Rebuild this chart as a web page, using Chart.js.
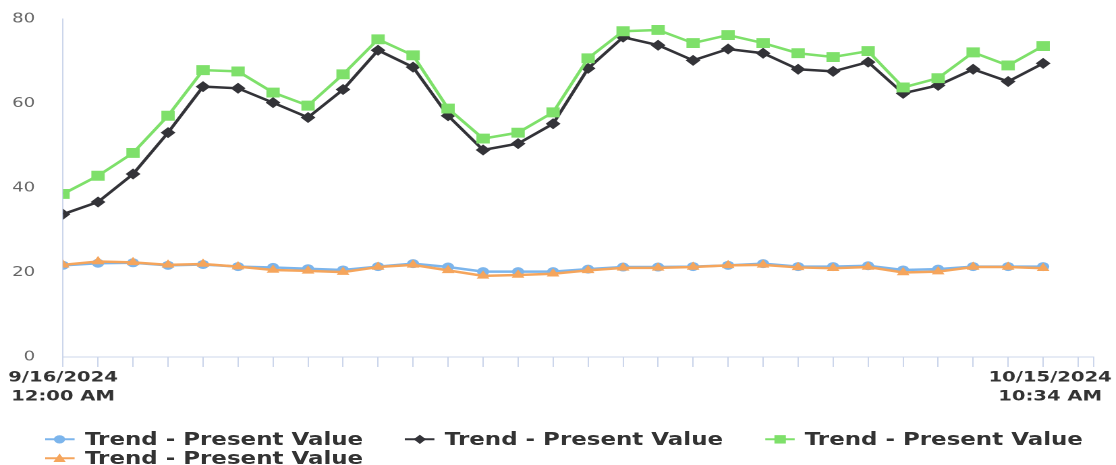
<!DOCTYPE html>
<html>
<head>
<meta charset="utf-8">
<script src="https://cdn.jsdelivr.net/npm/chart.js@4.4.1/dist/chart.umd.min.js"></script>
<style>
  html, body { margin: 0; padding: 0; background: #fff; overflow: hidden; }
  /* the source picture is stretched sideways, so the whole stage is too */
  #stage { position: absolute; left: 0; top: 0; width: 827px; height: 465px;
           transform-origin: 0 0; transform: scaleX(1.3494); }
  #chart { position: absolute; left: 0; top: 0; }
  #legend { position: absolute; left: 33.3px; top: 430.3px; width: 820px;
            display: flex; flex-wrap: wrap;
            font-family: "DejaVu Sans"; font-weight: bold; font-size: 17px;
            line-height: 18.7px; color: #333; }
  .item { width: 266.7px; display: flex; align-items: center; white-space: nowrap; }
  .item svg { width: 22.3px; height: 18.7px; margin-right: 7.4px; flex: none; }
</style>
</head>
<body>
<div id="stage">
  <canvas id="chart" width="827" height="465"></canvas>
  <div id="legend"></div>
</div>
<script>
// one point per day, 9/16/2024 .. 10/14/2024
var dates = [
    '9/16/2024', '9/17/2024', '9/18/2024', '9/19/2024', '9/20/2024', '9/21/2024',
    '9/22/2024', '9/23/2024', '9/24/2024', '9/25/2024', '9/26/2024', '9/27/2024',
    '9/28/2024', '9/29/2024', '9/30/2024', '10/1/2024', '10/2/2024', '10/3/2024',
    '10/4/2024', '10/5/2024', '10/6/2024', '10/7/2024', '10/8/2024', '10/9/2024',
    '10/10/2024', '10/11/2024', '10/12/2024', '10/13/2024', '10/14/2024'
];

var blueValues = [
    21.7, 22.2, 22.3, 21.7, 21.9, 21.4, 21.2, 20.9, 20.6, 21.4,
    22.1, 21.3, 20.2, 20.2, 20.2, 20.8, 21.3, 21.3, 21.4, 21.7,
    22.1, 21.4, 21.4, 21.6, 20.6, 20.8, 21.4, 21.4, 21.4
];
var blackValues = [
    33.8, 36.7, 43.3, 53.1, 64.0, 63.6, 60.2, 56.7, 63.3, 72.6,
    68.6, 57.1, 49.0, 50.5, 55.2, 68.3, 75.7, 73.8, 70.2, 72.9,
    71.9, 68.1, 67.6, 69.8, 62.4, 64.3, 68.1, 65.2, 69.5
];
var greenValues = [
    38.6, 42.9, 48.3, 57.1, 67.9, 67.6, 62.6, 59.5, 66.9, 75.2,
    71.4, 58.8, 51.7, 53.1, 57.9, 70.7, 77.1, 77.4, 74.3, 76.2,
    74.3, 71.9, 71.0, 72.4, 63.8, 66.0, 72.1, 69.0, 73.6
];
var orangeValues = [
    21.8, 22.6, 22.4, 21.8, 22.0, 21.4, 20.6, 20.4, 20.1, 21.3,
    21.8, 20.5, 19.2, 19.4, 19.7, 20.5, 21.1, 21.1, 21.3, 21.7,
    21.8, 21.2, 21.0, 21.3, 20.0, 20.2, 21.3, 21.3, 21.0
];

var seriesNames = ['Trend - Present Value', 'Trend - Present Value',
                   'Trend - Present Value', 'Trend - Present Value'];
var yTicks = [0, 20, 40, 60, 80];
var xTickLabels = [['9/16/2024', '12:00 AM'], ['10/15/2024', '10:34 AM']];

// x axis runs in days from the first sample up to 10/15/2024 10:34 AM
var rangeStart = new Date(2024, 8, 16, 0, 0);
var rangeEnd = new Date(2024, 9, 15, 10, 34);
var xMax = (rangeEnd - rangeStart) / 86400000;
// the end label is pulled left so it stays inside the picture
var LAST_LABEL_AT = 28.2;

var AXIS_COLOR = '#ccd6eb';

function toPoints(values) {
    return values.map(function(v, i) { return {x: i, y: v}; });
}

function makeSeries(name, values, color, style, radius, order) {
    return {
        label: name,
        data: toPoints(values),
        borderColor: color,
        backgroundColor: color,
        borderWidth: 2.5,
        tension: 0,
        pointStyle: style,
        pointRadius: radius,
        pointBackgroundColor: color,
        pointBorderWidth: 0,
        order: order
    };
}

var datasets = [
    makeSeries(seriesNames[0], blueValues, '#7cb5ec', 'circle', 4.5, 3),
    makeSeries(seriesNames[1], blackValues, '#333338', 'rectRot', 5.5, 2),
    makeSeries(seriesNames[2], greenValues, '#7ee06a', 'rect', 7, 1),
    makeSeries(seriesNames[3], orangeValues, '#f5a55c', 'triangle', 5.5, 0)
];

var ctx = document.getElementById('chart').getContext('2d');
var chart = new Chart(ctx, {
    type: 'line',
    data: {datasets: datasets},
    options: {
        responsive: false,
        animation: false,
        devicePixelRatio: 2,
        layout: {padding: {left: 0, right: 16.6, top: 19, bottom: 58}},
        plugins: {
            legend: {display: false},
            tooltip: {enabled: false}
        },
        scales: {
            x: {
                type: 'linear',
                min: 0,
                max: xMax,
                afterBuildTicks: function(scale) {
                    var ticks = [];
                    for (var d = 0; d <= Math.floor(xMax); d++) {
                        ticks.push({value: d});
                    }
                    ticks.push({value: LAST_LABEL_AT});
                    ticks.push({value: xMax});
                    ticks.sort(function(a, b) { return a.value - b.value; });
                    scale.ticks = ticks;
                },
                grid: {
                    drawOnChartArea: false,
                    tickLength: 10,
                    color: AXIS_COLOR,
                    tickColor: function(c) {
                        return c.tick && c.tick.value === LAST_LABEL_AT ? 'rgba(0,0,0,0)' : AXIS_COLOR;
                    }
                },
                border: {color: AXIS_COLOR, width: 1},
                ticks: {
                    autoSkip: false,
                    maxRotation: 0,
                    padding: 1,
                    color: '#333',
                    font: {family: 'DejaVu Sans', size: 14.5, weight: 'bold', lineHeight: 1.31},
                    callback: function(value) {
                        if (value === 0) return xTickLabels[0];
                        if (value === LAST_LABEL_AT) return xTickLabels[1];
                        return '';
                    }
                }
            },
            y: {
                min: 0,
                max: 80,
                afterBuildTicks: function(scale) {
                    scale.ticks = yTicks.map(function(v) { return {value: v}; });
                },
                afterFit: function(scale) {
                    scale.width = 46.7;
                },
                // invisible tick marks keep the labels clear of the axis line
                grid: {
                    drawOnChartArea: false,
                    drawTicks: true,
                    tickLength: 17.7,
                    tickColor: 'rgba(0,0,0,0)',
                    color: 'rgba(0,0,0,0)'
                },
                border: {color: AXIS_COLOR, width: 1},
                ticks: {
                    padding: 3,
                    color: '#666',
                    font: {family: 'DejaVu Sans', size: 13.4}
                }
            }
        }
    }
});

// legend as html, built from the datasets
function legendIcon(ds) {
    var c = ds.borderColor;
    var cx = 11.15, cy = 9.35;
    var mark = '';
    if (ds.pointStyle === 'circle') {
        mark = '<circle cx="' + cx + '" cy="' + cy + '" r="4.2" fill="' + c + '"/>';
    } else if (ds.pointStyle === 'rectRot') {
        mark = '<polygon points="' + cx + ',' + (cy - 4.6) + ' ' + (cx + 4.6) + ',' + cy + ' ' +
               cx + ',' + (cy + 4.6) + ' ' + (cx - 4.6) + ',' + cy + '" fill="' + c + '"/>';
    } else if (ds.pointStyle === 'rect') {
        mark = '<rect x="' + (cx - 4.2) + '" y="' + (cy - 4.2) + '" width="8.4" height="8.4" fill="' + c + '"/>';
    } else {
        mark = '<polygon points="' + cx + ',' + (cy - 4.8) + ' ' + (cx + 4.6) + ',' + (cy + 3.6) + ' ' +
               (cx - 4.6) + ',' + (cy + 3.6) + '" fill="' + c + '"/>';
    }
    return '<svg viewBox="0 0 22.3 18.7"><line x1="0" y1="' + cy + '" x2="22.3" y2="' + cy +
           '" stroke="' + c + '" stroke-width="2"/>' + mark + '</svg>';
}

var legendDiv = document.getElementById('legend');
chart.data.datasets.forEach(function(ds) {
    var item = document.createElement('div');
    item.className = 'item';
    item.innerHTML = legendIcon(ds) + '<span>' + ds.label + '</span>';
    legendDiv.appendChild(item);
});
</script>
</body>
</html>
